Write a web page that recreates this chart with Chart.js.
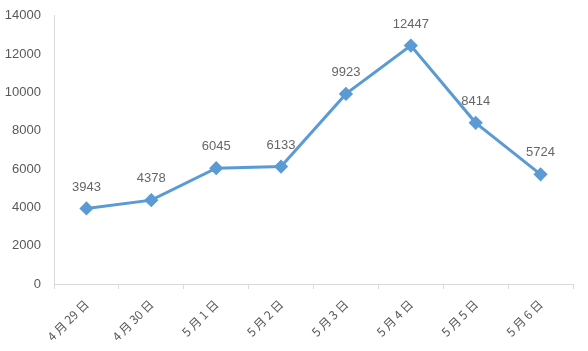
<!DOCTYPE html>
<html>
<head>
<meta charset="utf-8">
<script src="https://cdn.jsdelivr.net/npm/chart.js@4"></script>
<style>
  html, body { margin: 0; padding: 0; background: #fff; overflow: hidden; }
  #wrap { position: relative; top: -5px; width: 588px; height: 356px; }
</style>
</head>
<body>
<div id="wrap"><canvas id="graphique"></canvas></div>
<script>
const jours = ["4 月 29 日", "4 月 30 日", "5 月 1 日", "5 月 2 日", "5 月 3 日", "5 月 4 日", "5 月 5 日", "5 月 6 日"];
const valeurs = [3943, 4378, 6045, 6133, 9923, 12447, 8414, 5724];
const yMin = 0;
const yMax = 14000;
const yPas = 2000;

// labels au-dessus des points
const etiquettes = {
    id: "etiquettes",
    afterDatasetsDraw(chart) {
        const ctx = chart.ctx;
        const meta = chart.getDatasetMeta(0);
        ctx.save();
        ctx.font = "13px 'Liberation Sans', Arial, sans-serif";
        ctx.fillStyle = "#666666";
        ctx.textAlign = "center";
        ctx.textBaseline = "bottom";
        meta.data.forEach((pt, i) => {
            ctx.fillText(String(valeurs[i]), pt.x, pt.y - 15);
        });
        ctx.restore();
    }
};

const ctx = document.getElementById("graphique");
new Chart(ctx, {
    type: "line",
    data: {
        labels: jours,
        datasets: [{
            data: valeurs,
            borderColor: "#5B9BD5",
            backgroundColor: "#5B9BD5",
            borderWidth: 3,
            pointStyle: "rectRot",
            pointRadius: 5,
            pointHoverRadius: 5,
            tension: 0
        }]
    },
    options: {
        responsive: true,
        maintainAspectRatio: false,
        animation: false,
        events: [],
        layout: { padding: { top: 3, right: 15, left: 0, bottom: 0 } },
        plugins: {
            legend: { display: false },
            tooltip: { enabled: false }
        },
        scales: {
            x: {
                offset: true,
                grid: {
                    display: true,
                    drawOnChartArea: false,
                    drawTicks: true,
                    tickLength: 5,
                    color: "#d9d9d9",
                    offset: true
                },
                border: { color: "#d9d9d9" },
                ticks: {
                    minRotation: 45,
                    maxRotation: 45,
                    color: "#595959",
                    font: { size: 12, family: "'Noto Sans CJK SC', sans-serif" },
                    padding: 8
                },
                afterFit(scale) { scale.height = 67; }
            },
            y: {
                min: yMin,
                max: yMax,
                grid: { display: false, drawTicks: false },
                border: { color: "#d9d9d9" },
                ticks: {
                    stepSize: yPas,
                    color: "#595959",
                    font: { size: 13, family: "'Liberation Sans', Arial, sans-serif" },
                    padding: 13,
                    callback: (v) => String(v)
                },
                afterFit(scale) { scale.width = 54; }
            }
        }
    },
    plugins: [etiquettes]
});
</script>
</body>
</html>
